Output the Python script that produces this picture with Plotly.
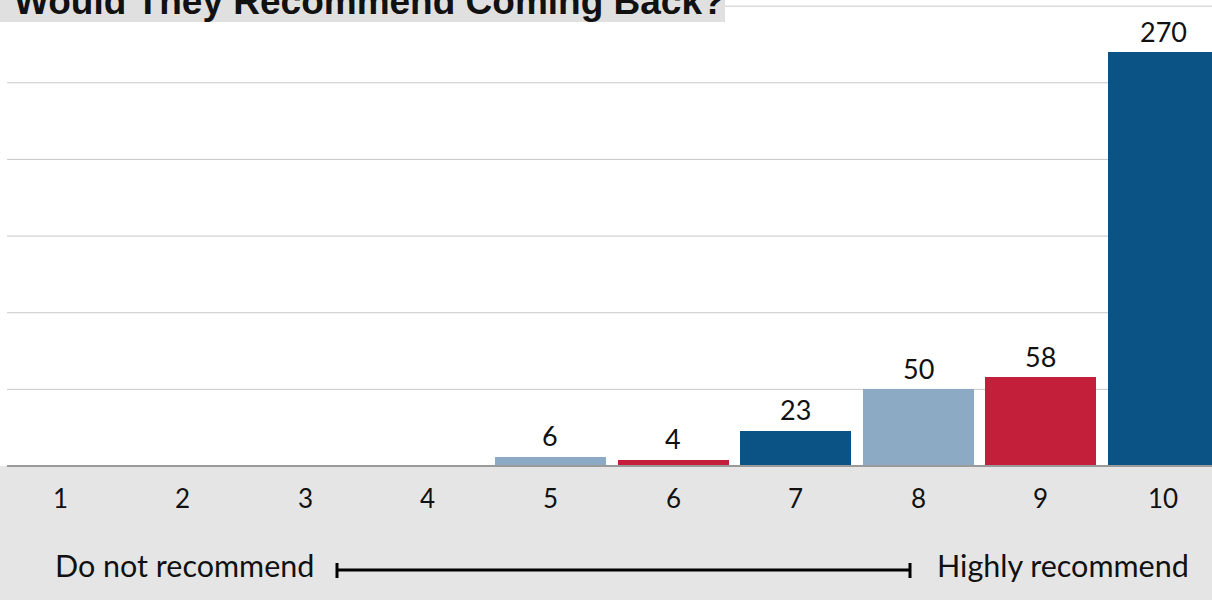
import plotly.graph_objects as go

W, H = 1212, 600

title_text = "Would They Recommend Coming Back?"
categories = ["1", "2", "3", "4", "5", "6", "7", "8", "9", "10"]
positions = [1, 2, 3, 4, 5, 6, 7, 8, 9, 10]
responses = [0, 0, 0, 0, 6, 4, 23, 50, 58, 270]
bar_labels = ["", "", "", "", "6", "4", "23", "50", "58", "270"]
grid_values = [50, 100, 150, 200, 250, 300]
left_label = "Do not recommend"
right_label = "Highly recommend"

palette = ["#C41F3A", "#0B5384", "#8DAAC4"]
bar_colors = [palette[p % 3] for p in positions]

Y_MIN, Y_MAX = -87.4, 304.0
X_MIN, X_MAX = 0.51, 10.396


def px(x):
    return x / W


def py(y):
    return 1 - y / H


fig = go.Figure()
fig.add_trace(go.Bar(
    x=positions, y=responses, marker=dict(color=bar_colors, line=dict(width=0)),
    width=0.905, hoverinfo="x+y", showlegend=False,
))

shapes = []
shapes.append(dict(type="rect", xref="paper", yref="y", x0=0, x1=1, y0=Y_MIN, y1=0,
                   fillcolor="#E5E5E5", line=dict(width=0), layer="below"))
for g in grid_values:
    shapes.append(dict(type="line", xref="paper", yref="y", x0=px(7), x1=1, y0=g, y1=g,
                       line=dict(color="#C8C8C8", width=1), layer="below"))
shapes.append(dict(type="line", xref="paper", yref="y", x0=px(7), x1=1, y0=0, y1=0,
                   line=dict(color="#9A9A9A", width=2)))
shapes.append(dict(type="rect", xref="paper", yref="paper", x0=0, x1=px(725), y0=py(22), y1=1.05,
                   fillcolor="#E0E0E0", line=dict(width=0)))
shapes.append(dict(type="line", xref="paper", yref="paper", x0=px(337), x1=px(910), y0=py(570), y1=py(570),
                   line=dict(color="black", width=3)))
for cx in (337, 910):
    shapes.append(dict(type="line", xref="paper", yref="paper", x0=px(cx), x1=px(cx), y0=py(563), y1=py(578),
                       line=dict(color="black", width=3)))

annotations = []
annotations.append(dict(text=f"<b>{title_text}</b>", xref="paper", yref="paper", x=px(12), y=py(1),
                        xanchor="left", yanchor="middle", showarrow=False,
                        font=dict(family="Liberation Sans, Arial", size=37, color="#111")))
for xp, cat in zip(positions, categories):
    annotations.append(dict(text=cat, x=xp, y=-21, xref="x", yref="y", showarrow=False,
                            xanchor="center", yanchor="middle",
                            font=dict(family="Lato", size=26, color="#111")))
for xp, v, lab in zip(positions, responses, bar_labels):
    if lab:
        annotations.append(dict(text=lab, x=xp, y=v, xref="x", yref="y", showarrow=False,
                                xanchor="center", yanchor="middle", yshift=21,
                                font=dict(family="Lato", size=27, color="#111")))
annotations.append(dict(text=left_label, xref="paper", yref="paper", x=px(53), y=py(565),
                        xanchor="left", yanchor="middle", showarrow=False,
                        font=dict(family="Lato", size=30.5, color="#111")))
annotations.append(dict(text=right_label, xref="paper", yref="paper", x=px(1191), y=py(565),
                        xanchor="right", yanchor="middle", showarrow=False,
                        font=dict(family="Lato", size=30.5, color="#111")))

fig.update_layout(
    width=W, height=H,
    margin=dict(l=0, r=0, t=0, b=0),
    paper_bgcolor="white", plot_bgcolor="white",
    xaxis=dict(range=[X_MIN, X_MAX], visible=False, fixedrange=True),
    yaxis=dict(range=[Y_MIN, Y_MAX], visible=False, fixedrange=True),
    shapes=shapes, annotations=annotations, bargap=0,
)

fig.write_html("out.html", config={"displayModeBar": False},
               post_script="document.body.style.margin='0';document.body.style.overflow='hidden';")
